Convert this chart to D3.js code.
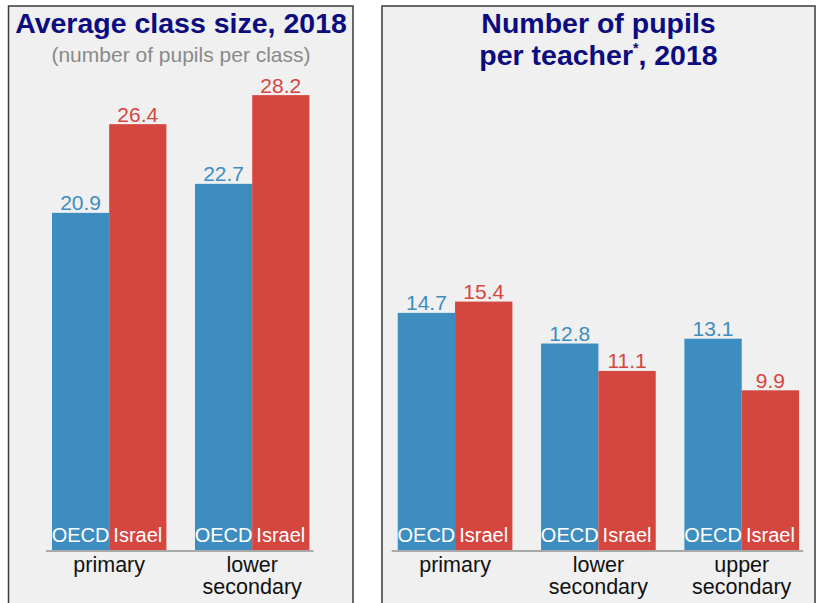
<!DOCTYPE html>
<html>
<head>
<meta charset="utf-8">
<script src="https://cdn.jsdelivr.net/npm/d3@7"></script>
<style>
  html, body { margin: 0; padding: 0; background: #ffffff; }
  svg { display: block; font-family: "Liberation Sans", Arial, sans-serif; }
</style>
</head>
<body>
<svg id="chart" width="819" height="603"></svg>
<script>
// ---- Data ----
const series = ["OECD", "Israel"];
const classCategories = ["primary", "lower secondary"];
const classOECD = [20.9, 22.7];
const classIsrael = [26.4, 28.2];
const teacherCategories = ["primary", "lower secondary", "upper secondary"];
const teacherOECD = [14.7, 12.8, 13.1];
const teacherIsrael = [15.4, 11.1, 9.9];

// ---- Style ----
const colors = { OECD: "#3e8dc1", Israel: "#d5463f" };
const bg = "#eff0ef";
const navy = "#0c0c80";

const svg = d3.select("#chart");
const baseline = 550;
const y = d3.scaleLinear().domain([0, 30]).range([baseline, baseline - 30 * 16.13]);

function panel(opts) {
  const g = svg.append("g");
  g.append("rect")
    .attr("x", opts.box[0]).attr("y", 6)
    .attr("width", opts.box[1] - opts.box[0]).attr("height", 620)
    .attr("fill", bg).attr("stroke", "#3a3a3a").attr("stroke-width", 1.5);

  const rows = opts.categories.map((c, i) => ({
    cat: c, values: [opts.oecd[i], opts.israel[i]]
  }));

  const x0 = d3.scaleBand().domain(opts.categories)
    .range(opts.range).paddingInner(0.2).paddingOuter(0.1);
  const x1 = d3.scaleBand().domain(series).range([0, x0.bandwidth()]);

  // axis line
  const first = x0(opts.categories[0]);
  const last = x0(opts.categories[opts.categories.length - 1]) + x0.bandwidth();
  g.append("line")
    .attr("x1", first - 6).attr("x2", last + 4)
    .attr("y1", baseline + 1).attr("y2", baseline + 1)
    .attr("stroke", "#a9a9a9").attr("stroke-width", 2);

  const groups = g.selectAll("g.grp").data(rows).join("g")
    .attr("class", "grp")
    .attr("transform", d => `translate(${x0(d.cat)},0)`);

  const items = groups.selectAll("g.bar")
    .data(d => series.map((s, i) => ({ s, v: d.values[i] })))
    .join("g").attr("class", "bar");

  items.append("rect")
    .attr("x", d => x1(d.s))
    .attr("y", d => y(d.v))
    .attr("width", x1.bandwidth())
    .attr("height", d => y(0) - y(d.v))
    .attr("fill", d => colors[d.s]);

  items.append("text")
    .attr("x", d => x1(d.s) + x1.bandwidth() / 2)
    .attr("y", d => y(d.v) - 2.5)
    .attr("text-anchor", "middle")
    .attr("font-size", 21)
    .attr("fill", d => colors[d.s])
    .text(d => d.v.toFixed(1));

  items.append("text")
    .attr("x", d => x1(d.s) + x1.bandwidth() / 2)
    .attr("y", baseline - 8)
    .attr("text-anchor", "middle")
    .attr("font-size", 20)
    .attr("fill", "#ffffff")
    .text(d => d.s);

  // category labels
  groups.append("text")
    .attr("x", x0.bandwidth() / 2)
    .attr("text-anchor", "middle")
    .attr("font-size", 21.5)
    .attr("fill", "#111")
    .selectAll("tspan")
    .data(d => d.cat.split(" "))
    .join("tspan")
    .attr("x", x0.bandwidth() / 2)
    .attr("y", (d, i) => 571.5 + i * 22)
    .text(d => d);

  return g;
}

// Left panel
const left = panel({
  box: [8.5, 353], range: [37.7, 323.7],
  categories: classCategories, oecd: classOECD, israel: classIsrael
});
left.append("text")
  .attr("x", 181).attr("y", 33).attr("text-anchor", "middle")
  .attr("font-size", 28.5).attr("font-weight", "bold").attr("fill", navy)
  .text("Average class size, 2018");
left.append("text")
  .attr("x", 181).attr("y", 62).attr("text-anchor", "middle")
  .attr("font-size", 21).attr("fill", "#8a8a8a")
  .text("(number of pupils per class)");

// Right panel
const right = panel({
  box: [382, 815], range: [383.4, 813.4],
  categories: teacherCategories, oecd: teacherOECD, israel: teacherIsrael
});
right.append("text")
  .attr("x", 598.5).attr("y", 33).attr("text-anchor", "middle")
  .attr("font-size", 28.5).attr("font-weight", "bold").attr("fill", navy)
  .text("Number of pupils");
const t2 = right.append("text")
  .attr("x", 598.5).attr("y", 65).attr("text-anchor", "middle")
  .attr("font-size", 28.5).attr("font-weight", "bold").attr("fill", navy);
t2.append("tspan").text("per teacher");
t2.append("tspan").attr("font-size", 14).attr("dy", -12).text("*");
t2.append("tspan").attr("dy", 12).text(", 2018");
</script>
</body>
</html>
